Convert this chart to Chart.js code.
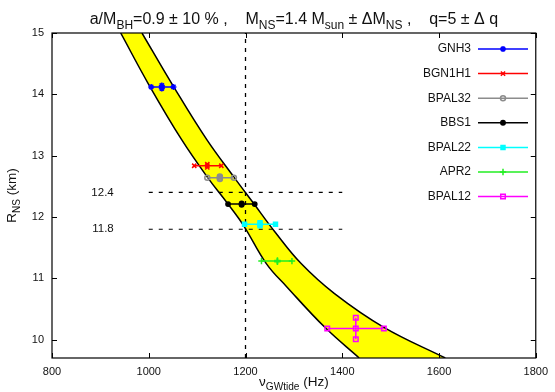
<!DOCTYPE html>
<html>
<head>
<meta charset="utf-8">
<script src="https://cdn.jsdelivr.net/npm/chart.js@4/dist/chart.umd.min.js"></script>
<style>
body{margin:0;background:#fff;}
#wrap{width:555px;height:392px;position:relative;}
</style>
</head>
<body>
<div id="wrap"><canvas id="chart"></canvas></div>
<script>

// axis ticks
const xTicks = [800, 1000, 1200, 1400, 1600, 1800];
const yTicks = [10, 11, 12, 13, 14, 15];

// EOS models: R_NS and nu_GWtide with error bars
const models = ["GNH3", "BGN1H1", "BPAL32", "BBS1", "BPAL22", "APR2", "BPAL12"];
const radius = [14.12, 12.835, 12.64, 12.21, 11.88, 11.28, 10.18];
const radiusErr = [0.025, 0.025, 0.02, 0.01, 0.025, 0.01, 0.175];
const freqLow = [1005, 1094, 1121, 1164, 1198, 1233, 1369];
const freqMid = [1027, 1121, 1147, 1192, 1230, 1266, 1428];
const freqHigh = [1051, 1150, 1176, 1219, 1262, 1296, 1486];

// yellow band edges (R, nu)
const bandLowR = [9.70, 10.20, 10.855, 11.24, 11.86, 12.22, 12.63, 13.26, 14.16, 15.0];
const bandLowF = [1435, 1364, 1286, 1243, 1196, 1163, 1123, 1068, 1000, 942];
const bandHighR = [9.70, 10.20, 10.75, 11.24, 11.755, 12.22, 12.63, 13.26, 14.13, 15.0];
const bandHighF = [1613, 1486, 1384, 1315, 1261, 1217, 1178, 1120, 1051, 986];

// reference lines
const refFreq = 1200;
const refRadii = [12.4, 11.8];
const refFreqRange = [1000, 1400];

const colors = ["#0000ff", "#ff0000", "#8c8c8c", "#000000", "#00ffff", "#22ee22", "#ff00ff"];
const markers = [
  {pointStyle:"star", radius:3, fill:false},
  {pointStyle:"crossRot", radius:3, fill:false},
  {pointStyle:"circle", radius:2.5, fill:false},
  {pointStyle:"circle", radius:2.2, fill:true},
  {pointStyle:"rect", radius:2.8, fill:true},
  {pointStyle:"cross", radius:3.2, fill:false},
  {pointStyle:"rect", radius:3.2, fill:false}
];

const FONT = "'Liberation Sans', Arial, Helvetica, sans-serif";

let datasets = [];

models.forEach(function(name, i){
  let base = {
    borderColor: colors[i],
    borderWidth: 1.5,
    pointStyle: markers[i].pointStyle,
    pointRadius: markers[i].radius,
    pointBorderWidth: 1.5,
    pointBorderColor: colors[i],
    pointBackgroundColor: markers[i].fill ? colors[i] : "rgba(0,0,0,0)",
    tension: 0,
    fill: false
  };
  datasets.push(Object.assign({label: name, data: [
    {x: freqLow[i], y: radius[i]},
    {x: freqMid[i], y: radius[i]},
    {x: freqHigh[i], y: radius[i]}
  ]}, base));
  datasets.push(Object.assign({label: name + " R", data: [
    {x: freqMid[i], y: radius[i] - radiusErr[i]},
    {x: freqMid[i], y: radius[i] + radiusErr[i]}
  ]}, base));
});

datasets.push({
  label: "ref nu",
  data: [{x: refFreq, y: 9.7}, {x: refFreq, y: 15}],
  borderColor: "#000", borderWidth: 1.3, borderDash: [4, 5],
  pointRadius: 0, fill: false, tension: 0
});

refRadii.forEach(function(r){
  datasets.push({
    label: "ref " + r,
    data: [{x: refFreqRange[0], y: r}, {x: refFreqRange[1], y: r}],
    borderColor: "#000", borderWidth: 1.2, borderDash: [4, 6],
    pointRadius: 0, fill: false, tension: 0
  });
});

datasets.push({
  label: "band high",
  data: bandHighR.map((r, k) => ({x: bandHighF[k], y: r})),
  borderColor: "#000", borderWidth: 1.5, pointRadius: 0,
  backgroundColor: "#ffff00", fill: "+1",
  tension: 0.4
});
datasets.push({
  label: "band low",
  data: bandLowR.map((r, k) => ({x: bandLowF[k], y: r})),
  borderColor: "#000", borderWidth: 1.5, pointRadius: 0,
  fill: false,
  tension: 0.4
});


function drawRich(ctx, segs, x, y, size, align){
  let total = 0;
  segs.forEach(s => {
    ctx.font = (s[1] ? size * 0.75 : size) + "px " + FONT;
    total += ctx.measureText(s[0]).width;
  });
  let cx = align === "center" ? x - total / 2 : x;
  segs.forEach(s => {
    ctx.font = (s[1] ? size * 0.75 : size) + "px " + FONT;
    ctx.fillText(s[0], cx, y + (s[1] ? size * 0.3 : 0));
    cx += ctx.measureText(s[0]).width;
  });
}

const overlay = {
  id: "overlay",
  afterDraw(chart){
    const ctx = chart.ctx;
    const a = chart.chartArea;
    const xs = chart.scales.x;
    const ys = chart.scales.y;
    ctx.save();

    // frame
    ctx.strokeStyle = "#000";
    ctx.lineWidth = 1.2;
    ctx.strokeRect(a.left, a.top, a.right - a.left, a.bottom - a.top);

    // inward ticks on all sides
    ctx.lineWidth = 1;
    ctx.beginPath();
    xTicks.forEach(v => {
      let px = Math.round(xs.getPixelForValue(v)) + 0.5;
      ctx.moveTo(px, a.bottom); ctx.lineTo(px, a.bottom - 5);
      ctx.moveTo(px, a.top); ctx.lineTo(px, a.top + 5);
    });
    yTicks.forEach(v => {
      let py = Math.round(ys.getPixelForValue(v)) + 0.5;
      ctx.moveTo(a.left, py); ctx.lineTo(a.left + 5, py);
      ctx.moveTo(a.right, py); ctx.lineTo(a.right - 5, py);
    });
    ctx.stroke();

    ctx.fillStyle = "#111";
    ctx.textBaseline = "middle";

    // reference line labels
    ctx.font = "11.5px " + FONT;
    ctx.textAlign = "right";
    refRadii.forEach(r => {
      ctx.fillText(r.toFixed(1), xs.getPixelForValue(refFreqRange[0]) - 35, ys.getPixelForValue(r));
    });

    // legend
    models.forEach((name, i) => {
      let ly = 49 + i * 24.6;
      ctx.font = "12px " + FONT;
      ctx.textAlign = "right";
      ctx.fillStyle = "#111";
      ctx.fillText(name, 471, ly);
      ctx.strokeStyle = colors[i];
      ctx.lineWidth = 1.5;
      ctx.beginPath();
      ctx.moveTo(478, ly); ctx.lineTo(528, ly);
      ctx.stroke();
      ctx.fillStyle = markers[i].fill ? colors[i] : "rgba(0,0,0,0)";
      Chart.helpers.drawPoint(ctx, {pointStyle: markers[i].pointStyle, radius: markers[i].radius, borderWidth: 1.5, rotation: 0}, 503, ly);
    });

    // title
    ctx.fillStyle = "#111";
    ctx.textAlign = "left";
    ctx.textBaseline = "alphabetic";
    let cxm = (a.left + a.right) / 2;
    drawRich(ctx, [["a/M", 0], ["BH", 1], ["=0.9 \u00b1 10 % ,    M", 0], ["NS", 1], ["=1.4 M", 0], ["sun", 1],
      [" \u00b1 \u0394M", 0], ["NS", 1], [" ,    q=5 \u00b1 \u0394 q", 0]], cxm, 24, 16, "center");

    // x title
    drawRich(ctx, [["\u03bd", 0], ["GWtide", 1], [" (Hz)", 0]], cxm, 386, 13.5, "center");

    // y title
    ctx.save();
    ctx.translate(16, (a.top + a.bottom) / 2);
    ctx.rotate(-Math.PI / 2);
    drawRich(ctx, [["R", 0], ["NS", 1], [" (km)", 0]], 0, 0, 13.5, "center");
    ctx.restore();

    ctx.restore();
  }
};

new Chart(document.getElementById("chart"), {
  type: "line",
  data: {datasets: datasets},
  options: {
    responsive: true,
    maintainAspectRatio: false,
    animation: false,
    indexAxis: "y",
    layout: {padding: {left: 0, right: 13, top: 33, bottom: 0}},
    plugins: {
      legend: {display: false},
      tooltip: {enabled: false},
      filler: {drawTime: "beforeDatasetsDraw"}
    },
    scales: {
      x: {
        type: "linear", min: 800, max: 1800,
        afterBuildTicks: s => { s.ticks = xTicks.map(v => ({value: v})); },
        afterFit: s => { s.height = 34; },
        grid: {display: false, drawTicks: false},
        border: {display: false},
        ticks: {padding: 7, color: "#111", font: {family: FONT, size: 11}, maxRotation: 0, autoSkip: false,
          callback: v => String(v)}
      },
      y: {
        type: "linear", min: 9.7, max: 15,
        afterBuildTicks: s => { s.ticks = yTicks.map(v => ({value: v})); },
        afterFit: s => { s.width = 52; },
        grid: {display: false, drawTicks: false},
        border: {display: false},
        ticks: {padding: 8, color: "#111", font: {family: FONT, size: 11}, autoSkip: false}
      }
    }
  },
  plugins: [overlay]
});
</script>
</body>
</html>
